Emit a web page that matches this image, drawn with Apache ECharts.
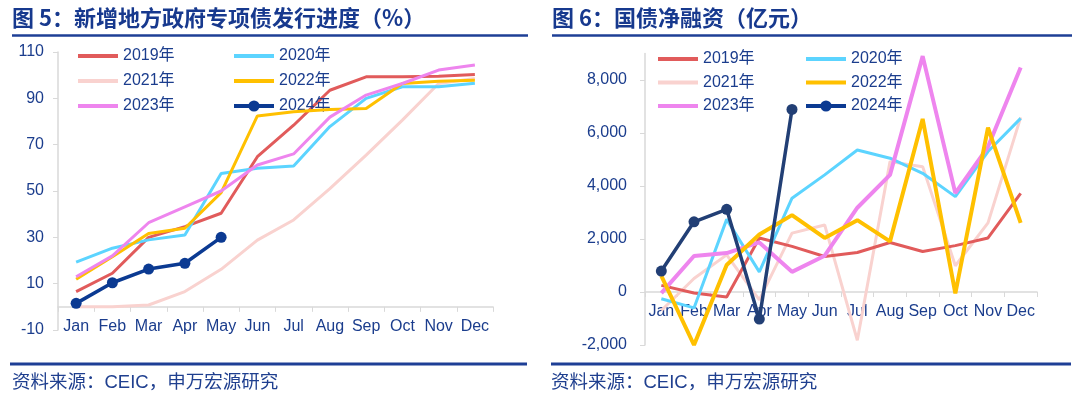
<!DOCTYPE html>
<html>
<head>
<meta charset="utf-8">
<script src="https://cdn.jsdelivr.net/npm/echarts@6/dist/echarts.min.js"></script>
<style>
  html, body { margin: 0; padding: 0; background: #fff; }
  #chart { width: 1080px; height: 399px; }
</style>
</head>
<body>
<div id="chart"></div>
<script>
// 月份
var months = ['Jan', 'Feb', 'Mar', 'Apr', 'May', 'Jun', 'Jul', 'Aug', 'Sep', 'Oct', 'Nov', 'Dec'];

// 图5 专项债发行进度 (%)
var prog2019 = [6.6, 14.5, 30, 34.6, 40.4, 64.8, 78.4, 93.5, 99.3, 99.3, 99.5, 100.3];
var prog2020 = [19.3, 25.3, 28.9, 31, 57.6, 59.8, 60.8, 77.8, 90, 95, 95, 96.5];
var prog2021 = [0, 0, 0.8, 6.6, 16.2, 28.8, 37.5, 51, 65.5, 80.6, 96.4, 98.6];
var prog2022 = [11.9, 21.6, 31.7, 33.9, 49.3, 82.4, 84.2, 85.2, 85.6, 96.4, 97.4, 97.8];
var prog2023 = [13, 22, 36.3, 43.2, 50, 61.2, 66, 81.9, 91.4, 96.4, 102.2, 104.4];
var prog2024 = [1.5, 10.4, 16.3, 18.8, 30];

// 图6 国债净融资 (亿元)
var net2019 = [250, -40, -190, 2040, 1720, 1340, 1490, 1870, 1530, 1750, 2040, 3720];
var net2020 = [-255, -600, 2740, 760, 3540, 4420, 5360, 5050, 4480, 3600, 5300, 6550];
var net2021 = [-700, 510, 1400, -300, 2220, 2530, -1820, 4920, 4730, 990, 2610, 6590];
var net2022 = [610, -2000, 1020, 2170, 2900, 2040, 2710, 1910, 6530, -50, 6200, 2610];
var net2023 = [-40, 1360, 1470, 1870, 760, 1370, 3180, 4420, 8900, 3730, 5480, 8470];
var net2024 = [790, 2650, 3120, -1020, 6890];

var txtColor = '#1B3D8D';
var latin = "'Liberation Sans', 'Noto Sans CJK SC', sans-serif";
var cjk = "'Noto Sans CJK SC', sans-serif";

var colors = {
    '2019年': '#E15B5B',
    '2020年': '#5CD4FF',
    '2021年': '#F9D2CF',
    '2022年': '#FFC000',
    '2023年': '#EE85EE'
};

function lineSeries(name, data, idx, width, z) {
    return {
        name: name,
        type: 'line',
        xAxisIndex: idx,
        yAxisIndex: idx,
        data: data,
        symbol: 'none',
        z: z,
        lineStyle: { color: colors[name], width: width },
        itemStyle: { color: colors[name] }
    };
}

function navySeries(data, idx, color) {
    return {
        name: '2024年',
        type: 'line',
        xAxisIndex: idx,
        yAxisIndex: idx,
        data: data,
        symbol: 'circle',
        symbolSize: 11,
        showSymbol: true,
        z: 10,
        lineStyle: { color: color, width: 3.5 },
        itemStyle: { color: color }
    };
}

// 图例里只画线，不画圆点（2024年除外）
function legendItem(name) {
    if (name === '2024年') return { name: name, lineStyle: { width: 4 } };
    return { name: name, itemStyle: { opacity: 0 }, lineStyle: { width: 4 } };
}

function legendCol(names, left, top, gap) {
    return {
        data: names.map(legendItem),
        orient: 'vertical',
        left: left,
        top: top,
        padding: 0,
        itemWidth: 40,
        itemHeight: 14,
        itemGap: gap,
        textStyle: { fontSize: 16, color: txtColor, fontFamily: latin }
    };
}

function xAxisCfg(idx, margin) {
    return {
        type: 'category',
        gridIndex: idx,
        data: months,
        boundaryGap: true,
        axisLine: { onZero: true, lineStyle: { color: '#D9D9D9', width: 1.5 } },
        axisTick: { show: true, length: 5, lineStyle: { color: '#D9D9D9' } },
        axisLabel: { color: txtColor, fontSize: 16, fontFamily: latin, margin: margin, interval: 0 },
        splitLine: { show: false }
    };
}

var chart = echarts.init(document.getElementById('chart'));
chart.setOption({
    animation: false,
    backgroundColor: '#fff',
    grid: [
        { left: 58, top: 52, width: 435, height: 278, outerBoundsMode: 'none' },
        { left: 645, top: 53.5, width: 392, height: 291.5, outerBoundsMode: 'none' }
    ],
    legend: [
        legendCol(['2019年', '2021年', '2023年'], 76, 48, 9),
        legendCol(['2020年', '2022年', '2024年'], 232, 48, 9),
        legendCol(['2019年', '2021年', '2023年'], 656, 51, 7.5),
        legendCol(['2020年', '2022年', '2024年'], 804, 51, 7.5)
    ],
    xAxis: [xAxisCfg(0, -11), xAxisCfg(1, -41)],
    yAxis: [
        {
            type: 'value',
            gridIndex: 0,
            min: -10,
            max: 110,
            interval: 20,
            axisLine: { show: true, lineStyle: { color: '#D9D9D9', width: 1.5 } },
            axisTick: { show: true, length: 5, lineStyle: { color: '#D9D9D9' } },
            axisLabel: { color: txtColor, fontSize: 16, fontFamily: latin, margin: 14 },
            splitLine: { show: false }
        },
        {
            type: 'value',
            gridIndex: 1,
            min: -2000,
            max: 9000,
            interval: 2000,
            axisLine: { show: true, lineStyle: { color: '#D9D9D9', width: 1.5 } },
            axisTick: { show: true, length: 5, lineStyle: { color: '#D9D9D9' } },
            axisLabel: {
                color: txtColor, fontSize: 16, fontFamily: latin, margin: 18,
                showMaxLabel: false,
                formatter: function (v) { return v.toLocaleString('en-US'); }
            },
            splitLine: { show: false }
        }
    ],
    series: [
        lineSeries('2021年', prog2021, 0, 3, 1),
        lineSeries('2019年', prog2019, 0, 3, 2),
        lineSeries('2020年', prog2020, 0, 3, 3),
        lineSeries('2022年', prog2022, 0, 3, 4),
        lineSeries('2023年', prog2023, 0, 3, 5),
        navySeries(prog2024, 0, '#0B3A92'),
        lineSeries('2021年', net2021, 1, 3, 1),
        lineSeries('2019年', net2019, 1, 3, 2),
        lineSeries('2020年', net2020, 1, 3, 3),
        lineSeries('2023年', net2023, 1, 4, 4),
        lineSeries('2022年', net2022, 1, 4, 5),
        navySeries(net2024, 1, '#223F75')
    ],
    graphic: [
        { type: 'text', left: 12, top: 7, style: { text: '图 5：新增地方政府专项债发行进度（%）', font: 'bold 22px ' + cjk, fill: '#17398E' } },
        { type: 'text', left: 552, top: 7, style: { text: '图 6：国债净融资（亿元）', font: 'bold 22px ' + cjk, fill: '#17398E' } },
        { type: 'line', shape: { x1: 12, y1: 35.5, x2: 528, y2: 35.5 }, style: { stroke: '#1E3F96', lineWidth: 2.5 } },
        { type: 'line', shape: { x1: 552, y1: 35.5, x2: 1072, y2: 35.5 }, style: { stroke: '#1E3F96', lineWidth: 2.5 } },
        { type: 'line', shape: { x1: 10, y1: 364, x2: 527, y2: 364 }, style: { stroke: '#1E3F96', lineWidth: 3 } },
        { type: 'line', shape: { x1: 551, y1: 364, x2: 1071, y2: 364 }, style: { stroke: '#1E3F96', lineWidth: 3 } },
        { type: 'text', left: 12, top: 374, style: { text: '资料来源：CEIC，申万宏源研究', font: '18.5px ' + latin, fill: '#1F3F8F' } },
        { type: 'text', left: 551, top: 374, style: { text: '资料来源：CEIC，申万宏源研究', font: '18.5px ' + latin, fill: '#1F3F8F' } }
    ]
});
</script>
</body>
</html>
